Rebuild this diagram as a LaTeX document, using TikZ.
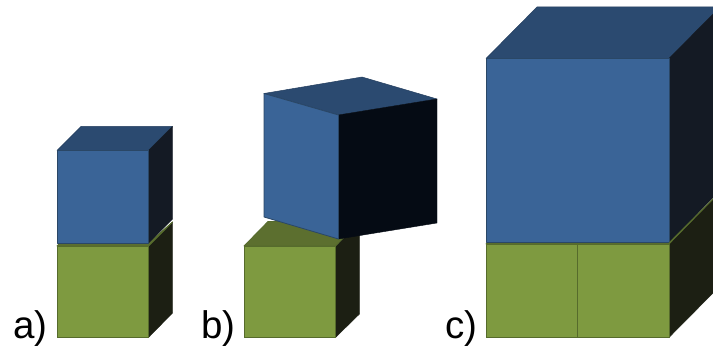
\documentclass[tikz,border=0pt]{standalone}
\usepackage{fontspec}
\setmainfont{Liberation Sans}
\definecolor{bluefront}{HTML}{3A6497}
\definecolor{bluetop}{HTML}{2B4A70}
\definecolor{blueside}{HTML}{141A24}
\definecolor{bluedark}{HTML}{050B14}
\definecolor{blueedge}{HTML}{2A4766}
\definecolor{greenfront}{HTML}{7E9A40}
\definecolor{greentop}{HTML}{5C6F2F}
\definecolor{greenside}{HTML}{1C1F13}
\definecolor{greenedge}{HTML}{566B2C}
\tikzset{
  bf/.style={fill=bluefront,draw=blueedge,line width=0.8pt,line join=round},
  bt/.style={fill=bluetop,draw=bluetop!85!black,line width=0.5pt,line join=round},
  bs/.style={fill=blueside,draw=blueside,line width=0.4pt,line join=round},
  bd/.style={fill=bluedark,draw=bluedark,line width=0.4pt,line join=round},
  gf/.style={fill=greenfront,draw=greenedge,line width=0.8pt,line join=round},
  gt/.style={fill=greentop,draw=greenedge,line width=0.8pt,line join=round},
  gs/.style={fill=greenside,draw=greenside,line width=0.4pt,line join=round},
  lab/.style={anchor=base west,inner sep=0pt,outer sep=0pt,font=\fontsize{38.5}{38.5}\selectfont,text=black}
}
\begin{document}
\begin{tikzpicture}[x=1pt,y=-1pt]
\useasboundingbox (0,0) rectangle (713,350);
\clip (0,0) rectangle (713,350);
% a) green
\path[gs] (148.5,246) -- (172.5,222) -- (172.5,313) -- (148.5,337.5) -- cycle;
\path[gt] (57,246) -- (60,243) -- (148.5,243) -- (172.5,222) -- (148.5,246) -- cycle;
\path[gf] (57,246) rectangle (148.5,337.5);
% a) blue
\path[bt] (57,150.5) -- (81,126.5) -- (172.5,126.5) -- (148.5,150.5) -- cycle;
\path[bs] (148.5,150.5) -- (172.5,126.5) -- (172.5,219) -- (148.5,243) -- cycle;
\path[bf] (57,150.5) rectangle (148.5,243);
% b) green
\path[gs] (335.5,246) -- (359.5,222) -- (359.5,314) -- (335.5,337.5) -- cycle;
\path[gt] (244,246) -- (268,221.5) -- (359.5,221.5) -- (335.5,246) -- cycle;
\path[gf] (244,246) rectangle (335.5,337.5);
% b) blue
\path[bt] (264,93.5) -- (362,77) -- (437,99) -- (338.5,115) -- cycle;
\path[bd] (338.5,115) -- (437,99) -- (437,223) -- (338.5,239) -- cycle;
\path[bf] (264,93.5) -- (338.5,115) -- (338.5,239) -- (264,217) -- cycle;
% c) green
\path[gs] (669,244) -- (720,192) -- (720,286) -- (669,337.5) -- cycle;
\path[gt] (486,244) -- (488,242) -- (669,242) -- (713,199) -- (669,244) -- cycle;
\path[gf] (486,244) rectangle (669,337.5);
\draw[greenedge,line width=0.8pt] (577.5,244) -- (577.5,337.5);
% c) blue
\path[bt] (486,58.5) -- (537,7) -- (720,7) -- (669,58.5) -- cycle;
\path[bs] (669,58.5) -- (720,7) -- (720,190.5) -- (669,242) -- cycle;
\path[bf] (486,58.5) rectangle (669,242);
\draw[greenedge,line width=0.8pt] (669,243) -- (713,199);
% labels
\node[lab] (la) at (13,338) {a)};
\node[lab] (lb) at (201.5,338) {b)};
\node[lab] (lc) at (445.5,338) {c)};
\end{tikzpicture}
\end{document}
